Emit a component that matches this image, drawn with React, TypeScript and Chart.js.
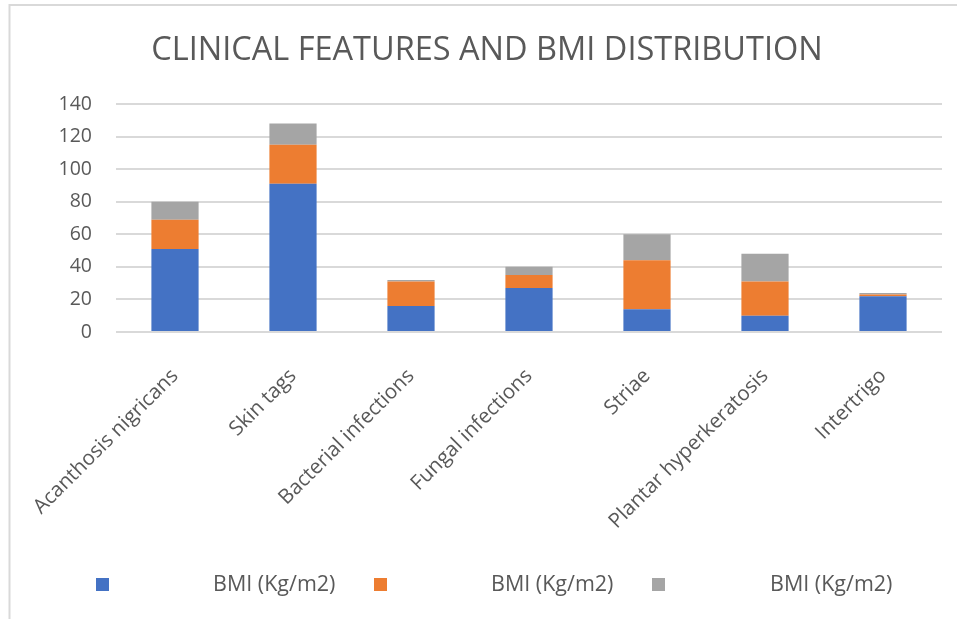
import React, { useEffect, useRef } from "react";
import { Chart, registerables } from "chart.js";

Chart.register(...registerables);

const chartTitle = "CLINICAL FEATURES AND BMI DISTRIBUTION";
const categories = [
  "Acanthosis nigricans",
  "Skin tags",
  "Bacterial infections",
  "Fungal infections",
  "Striae",
  "Plantar hyperkeratosis",
  "Intertrigo",
];
const seriesNames = ["BMI (Kg/m2)", "BMI (Kg/m2)", "BMI (Kg/m2)"];
const series1 = [51, 91, 16, 27, 14, 10, 22];
const series2 = [18, 24, 15, 8, 30, 21, 1];
const series3 = [11, 13, 1, 5, 16, 17, 1];
const seriesColors = ["#4472C4", "#ED7D31", "#A5A5A5"];
const yMin = 0;
const yMax = 140;
const yStep = 20;

const FONT = "'Open Sans', sans-serif";
const TEXT = "#595959";

const decorPlugin = {
  id: "decor",
  beforeDraw(chart: any) {
    const ctx = chart.ctx;
    ctx.save();
    ctx.fillStyle = "#ffffff";
    ctx.fillRect(0, 0, chart.width, chart.height);
    ctx.strokeStyle = "#D9D9D9";
    ctx.lineWidth = 2;
    ctx.beginPath();
    ctx.moveTo(9.5, chart.height);
    ctx.lineTo(9.5, 5);
    ctx.lineTo(chart.width - 1, 5);
    ctx.stroke();
    ctx.restore();
  },
  afterDraw(chart: any) {
    const ctx = chart.ctx;
    ctx.save();
    ctx.fillStyle = TEXT;
    ctx.font = `32.5px ${FONT}`;
    ctx.textAlign = "center";
    ctx.textBaseline = "alphabetic";
    ctx.fillText(chartTitle, 487, 60, 672);

    const ds = chart.data.datasets;
    const boxX = [96, 374, 652];
    const textX = [213, 491, 770];
    ctx.font = `21.5px ${FONT}`;
    ctx.textAlign = "left";
    ctx.textBaseline = "middle";
    ds.forEach((d: any, i: number) => {
      ctx.fillStyle = d.backgroundColor;
      ctx.fillRect(boxX[i], 578, 13, 13);
      ctx.fillStyle = TEXT;
      ctx.fillText(d.label, textX[i], 585);
    });
    ctx.restore();
  },
};

export default function App() {
  const ref = useRef<HTMLCanvasElement>(null);
  useEffect(() => {
    if (!ref.current) return;
    const chart = new Chart(ref.current, {
      type: "bar",
      data: {
        labels: categories,
        datasets: [series1, series2, series3].map((s, i) => ({
          label: seriesNames[i],
          data: s,
          backgroundColor: seriesColors[i],
          borderWidth: 0,
          categoryPercentage: 1,
          barPercentage: 0.4,
        })),
      },
      options: {
        animation: false,
        responsive: false,
        devicePixelRatio: 1,
        layout: { padding: { top: 104, right: 16, left: 0, bottom: 0 } },
        plugins: {
          legend: { display: false },
          title: { display: false },
          tooltip: { enabled: false },
        },
        scales: {
          x: {
            stacked: true,
            grid: { display: false },
            border: { display: false },
            ticks: {
              color: TEXT,
              font: { family: FONT, size: 20.5 },
              minRotation: 45,
              maxRotation: 45,
              padding: 24,
              autoSkip: false,
            },
            afterFit(scale: any) {
              scale.height = 619 - 332;
            },
          },
          y: {
            stacked: true,
            min: yMin,
            max: yMax,
            grid: { color: "#D9D9D9", lineWidth: 2, drawTicks: false },
            border: { display: false },
            ticks: {
              stepSize: yStep,
              color: TEXT,
              font: { family: FONT, size: 19.5 },
              padding: 24,
            },
            afterFit(scale: any) {
              scale.width = 116;
            },
          },
        },
      },
      plugins: [decorPlugin],
    });
    return () => chart.destroy();
  }, []);
  return (
    <div style={{ position: "absolute", left: 0, top: 0, width: 958, height: 619 }}>
      <canvas ref={ref} width={958} height={619} style={{ width: 958, height: 619 }} />
    </div>
  );
}
